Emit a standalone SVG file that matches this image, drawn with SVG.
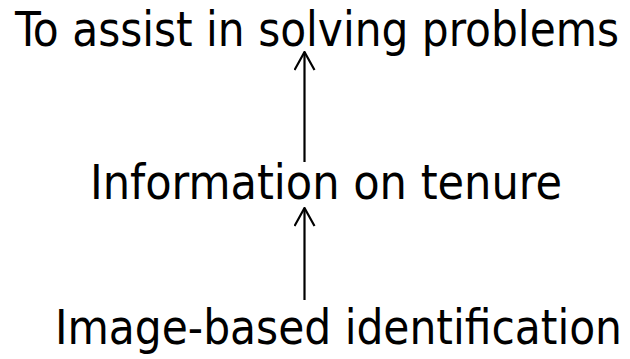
<svg xmlns="http://www.w3.org/2000/svg" width="630" height="359" viewBox="0 0 630 359">
<defs>
<style>
.t{font-family:"DejaVu Sans Condensed","DejaVu Sans",sans-serif;font-size:48px;fill:#000}
.c{stroke:#000;stroke-width:2.2;fill:none}
</style>
<marker id="ah" viewBox="0 0 20 22" refX="19" refY="11" markerWidth="20" markerHeight="22" markerUnits="userSpaceOnUse" orient="auto">
<path d="M1,1 L19,11 L1,21" fill="none" stroke="#000" stroke-width="2.2" stroke-linejoin="miter"/>
</marker>
</defs>
<rect width="630" height="359" fill="#fff"/>
<g id="connectors">
<line class="c" x1="304.5" y1="162" x2="304.5" y2="52" marker-end="url(#ah)"/>
<line class="c" x1="304.5" y1="300" x2="304.5" y2="208" marker-end="url(#ah)"/>
</g>
<g id="node-top"><text class="t" x="15" y="46" textLength="604" lengthAdjust="spacingAndGlyphs">To assist in solving problems</text></g>
<g id="node-middle"><text class="t" x="90" y="199" textLength="472" lengthAdjust="spacingAndGlyphs">Information on tenure</text></g>
<g id="node-bottom"><text class="t" x="55" y="344" textLength="567" lengthAdjust="spacingAndGlyphs">Image-based identification</text></g>
</svg>
